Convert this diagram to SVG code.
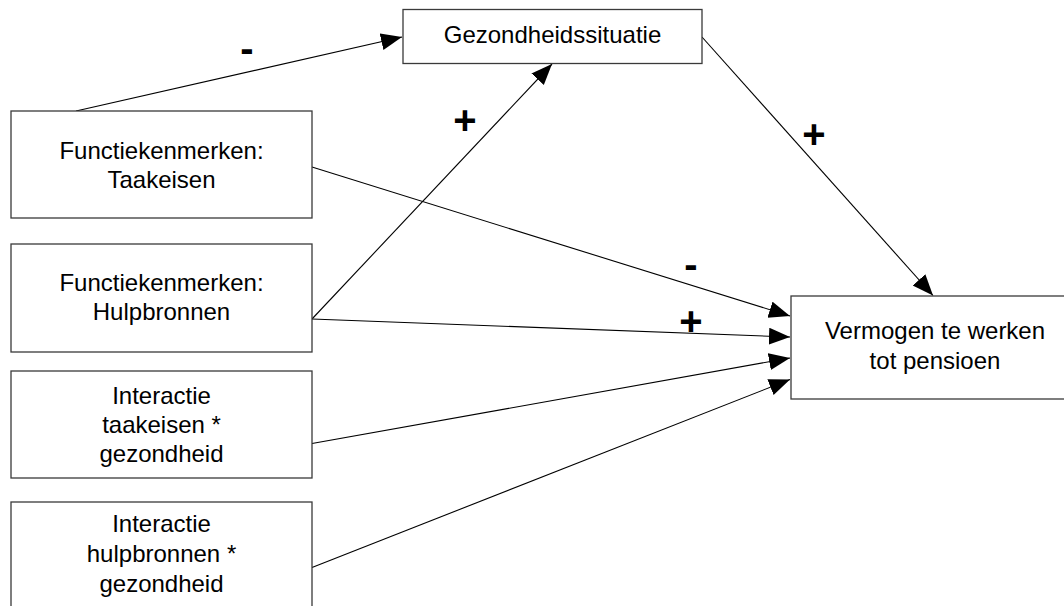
<svg xmlns="http://www.w3.org/2000/svg" width="1064" height="606" viewBox="0 0 1064 606">
  <style>
    .box { fill: #ffffff; stroke: #3a3a3a; stroke-width: 1.3; }
    .lbl { font-family: "Liberation Sans", Arial, sans-serif; font-size: 24px; fill: #000000; text-anchor: middle; }
    .sign { font-family: "Liberation Sans", Arial, sans-serif; font-size: 40px; font-weight: bold; fill: #000000; text-anchor: middle; }
    .edge { fill: none; stroke: #000000; stroke-width: 1.1; marker-end: url(#arrow); }
  </style>
  <defs>
    <marker id="arrow" markerUnits="userSpaceOnUse" markerWidth="22" markerHeight="18" refX="21" refY="8.5" orient="auto">
      <path d="M0,0 L21,8.5 L0,17 Z" fill="#000000"/>
    </marker>
  </defs>
  <rect width="1064" height="606" fill="#ffffff"/>

  <g id="connectors">
    <line class="edge" x1="76" y1="111" x2="402" y2="37"/>
    <line class="edge" x1="312" y1="167" x2="790" y2="316"/>
    <line class="edge" x1="312" y1="319" x2="552" y2="64"/>
    <line class="edge" x1="312" y1="319" x2="790" y2="337"/>
    <line class="edge" x1="312" y1="443.5" x2="790" y2="358"/>
    <line class="edge" x1="312" y1="567.5" x2="790" y2="379.5"/>
    <line class="edge" x1="702" y1="37" x2="933" y2="295.5"/>
  </g>

  <g id="signs">
    <text class="sign" x="247" y="62">-</text>
    <text class="sign" x="465" y="133.5">+</text>
    <text class="sign" x="814" y="147.5">+</text>
    <text class="sign" x="691" y="278">-</text>
    <text class="sign" x="691" y="335">+</text>
  </g>

  <g id="gezondheidssituatie">
    <rect class="box" x="403" y="9.5" width="299" height="54"/>
    <text class="lbl" x="552.5" y="43">Gezondheidssituatie</text>
  </g>

  <g id="taakeisen">
    <rect class="box" x="11" y="111" width="301" height="107"/>
    <text class="lbl" x="161.5" y="159">Functiekenmerken:</text>
    <text class="lbl" x="161.5" y="188">Taakeisen</text>
  </g>

  <g id="hulpbronnen">
    <rect class="box" x="11" y="244" width="301" height="108"/>
    <text class="lbl" x="161.5" y="291">Functiekenmerken:</text>
    <text class="lbl" x="161.5" y="320">Hulpbronnen</text>
  </g>

  <g id="interactie-taakeisen">
    <rect class="box" x="11" y="371" width="301" height="107"/>
    <text class="lbl" x="161.5" y="404">Interactie</text>
    <text class="lbl" x="161.5" y="433">taakeisen *</text>
    <text class="lbl" x="161.5" y="462">gezondheid</text>
  </g>

  <g id="interactie-hulpbronnen">
    <rect class="box" x="11" y="502" width="301" height="108"/>
    <text class="lbl" x="161.5" y="532">Interactie</text>
    <text class="lbl" x="161.5" y="562">hulpbronnen *</text>
    <text class="lbl" x="161.5" y="592">gezondheid</text>
  </g>

  <g id="vermogen">
    <rect class="box" x="791" y="296" width="288" height="103"/>
    <text class="lbl" x="935" y="339">Vermogen te werken</text>
    <text class="lbl" x="935" y="369">tot pensioen</text>
  </g>
</svg>
